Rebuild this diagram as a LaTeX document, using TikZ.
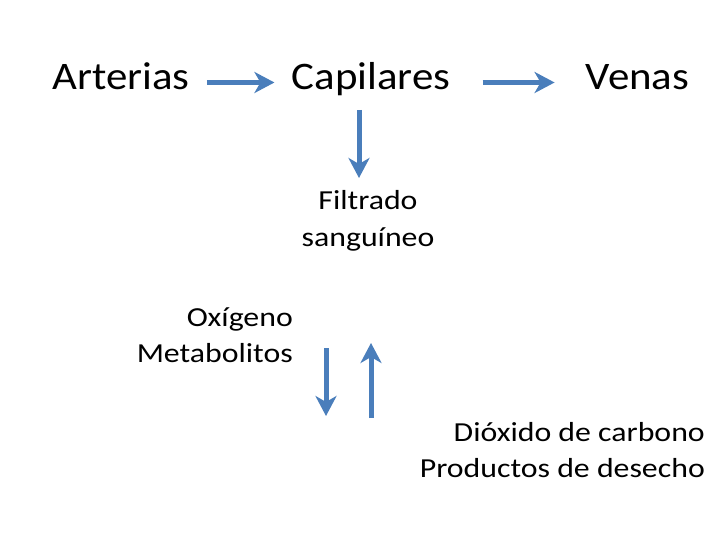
\documentclass[tikz,border=0pt]{standalone}
\usepackage{fontspec}
\setmainfont[FakeStretch=1.157]{Carlito}
\newfontfamily\bigfont[FakeStretch=1.10]{Carlito}
\usetikzlibrary{arrows.meta}
\definecolor{arrblue}{HTML}{4A7EBB}
\begin{document}
\begin{tikzpicture}[x=1pt,y=-1pt,
  big/.style={font=\bigfont\fontsize{39}{47}\selectfont, inner sep=0pt, anchor=base},
  small/.style={font=\fontsize{27.5}{36}\selectfont, inner sep=0pt},
  arr/.style={draw=arrblue, line width=5pt, -{Stealth[length=20pt,width=21pt,inset=6pt]}}]
\useasboundingbox (0,0) rectangle (720,540);
\node[big] (art) at (121,89.5) {Arterias};
\node[big] (cap) at (371,89.5) {Capilares};
\node[big] (ven) at (637.5,89.5) {Venas};
\node[small, align=center, anchor=base] (fil) at (368,246) {Filtrado\\sanguíneo};
\node[small, align=right, anchor=base east] (oxi) at (293,362) {Oxígeno\\Metabolitos};
\node[small, align=right, anchor=base east] (dio) at (705,477) {Dióxido de carbono\\Productos de desecho};
\coordinate (d1) at (359,110);
\coordinate (d2) at (359,178);
\coordinate (l1) at (326,348);
\coordinate (l2) at (326,416);
\coordinate (u1) at (371,418);
\coordinate (u2) at (371,343);
\draw[arr] ([xshift=17pt,yshift=7pt]art.base east) -- ([xshift=-17pt,yshift=7pt]cap.base west);
\draw[arr] ([xshift=32pt,yshift=7pt]cap.base east) -- ([xshift=-31pt,yshift=7pt]ven.base west);
\draw[arr] (d1) -- (d2);
\draw[arr] (l1) -- (l2);
\draw[arr] (u1) -- (u2);
\end{tikzpicture}
\end{document}
